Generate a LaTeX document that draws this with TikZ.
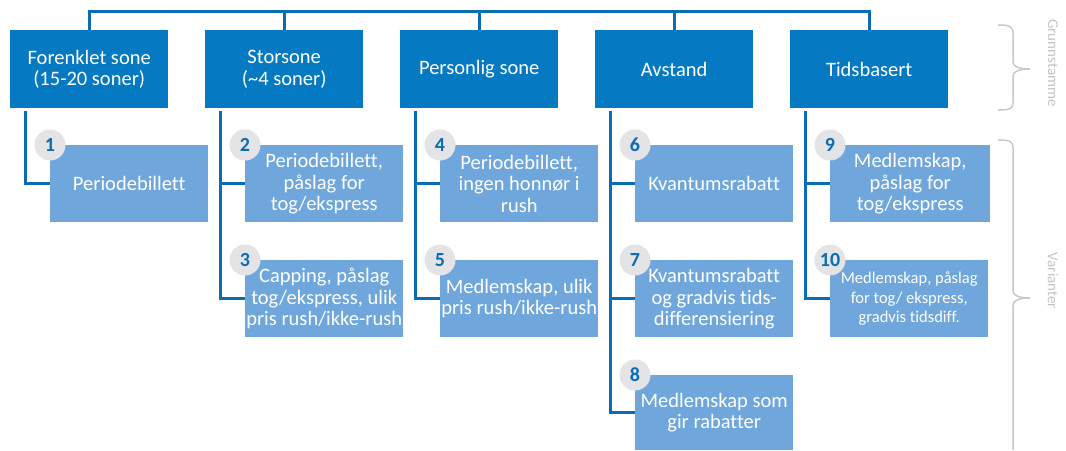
\documentclass[tikz,border=0pt]{standalone}
\usepackage{fontspec}
\setmainfont[Ligatures=NoCommon]{Carlito}
\definecolor{topblue}{HTML}{0579C1}
\definecolor{subblue}{HTML}{6FA7DC}
\definecolor{lineblue}{HTML}{0A6CB2}
\definecolor{numgray}{HTML}{E4E4E6}
\definecolor{bracegray}{HTML}{C8C8C8}
\definecolor{labelgray}{HTML}{C4C4C4}
\tikzset{
  topbox/.style={fill=topblue, text=white, minimum width=158pt, minimum height=78pt, inner sep=0pt, anchor=north west, align=center, font=\fontsize{20.5}{21.5}\selectfont},
  subbox/.style={fill=subblue, text=white, minimum width=158pt, minimum height=77pt, inner sep=0pt, anchor=north west, align=center, font=\fontsize{20.5}{21.5}\selectfont},
  numbadge/.style={circle, fill=numgray, minimum size=31pt, inner sep=0pt, text=lineblue, font=\fontsize{20}{20}\selectfont\bfseries},
  conn/.style={draw=lineblue, line width=3pt},
  bracepath/.style={draw=bracegray, line width=1.5pt},
  sidelabel/.style={rotate=-90, text=labelgray, font=\fontsize{15}{15}\selectfont}
}
\begin{document}
\begin{tikzpicture}[x=1pt,y=-1pt]
\useasboundingbox (0,0) rectangle (1066,450);
% top row
\node[topbox] (t1) at (10,30) {Forenklet sone\\(15-20 soner)};
\node[topbox] (t2) at (205,30) {Storsone\\(\textasciitilde4 soner)};
\node[topbox] (t3) at (400,30) {Personlig sone};
\node[topbox] (t4) at (595,30) {Avstand};
\node[topbox] (t5) at (790,30) {Tidsbasert};
% top bar
\coordinate (bar) at (0,11.5);
\draw[conn] (t1.north) |- (bar -| t5.north) -- (t5.north);
\foreach \t in {t2,t3,t4} \draw[conn] (\t.north) -- (\t.north |- bar);
% sub boxes
\node[subbox] (s1) at (50,145) {Periodebillett};
\node[subbox] (s2) at (245,145) {Periodebillett,\\påslag for\\tog/ekspress};
\node[subbox] (s3) at (245,260) {Capping, påslag\\tog/ekspress, ulik\\pris rush/ikke-rush};
\node[subbox] (s4) at (440,145) {Periodebillett,\\ingen honnør i\\rush};
\node[subbox] (s5) at (440,260) {Medlemskap, ulik\\pris rush/ikke-rush};
\node[subbox] (s6) at (635,145) {Kvantumsrabatt};
\node[subbox] (s7) at (635,260) {Kvantumsrabatt\\og gradvis tids-\\differensiering};
\node[subbox, minimum height=75pt] (s8) at (635,375) {Medlemskap som\\gir rabatter};
\node[subbox, minimum width=160pt] (s9) at (830,145) {Medlemskap,\\påslag for\\tog/ekspress};
\node[subbox, font=\fontsize{16.5}{19.5}\selectfont] (s10) at (830,260) {Medlemskap, påslag\\for tog/ ekspress,\\gradvis tidsdiff.};
% connectors
\draw[conn] ([xshift=15pt,yshift=-3pt]t1.south west) |- (s1.west);
\draw[conn] ([xshift=15pt,yshift=-3pt]t2.south west) |- (s2.west);
\draw[conn] ([xshift=15pt,yshift=-3pt]t2.south west) |- (s3.west);
\draw[conn] ([xshift=15pt,yshift=-3pt]t3.south west) |- (s4.west);
\draw[conn] ([xshift=15pt,yshift=-3pt]t3.south west) |- (s5.west);
\draw[conn] ([xshift=15pt,yshift=-3pt]t4.south west) |- (s6.west);
\draw[conn] ([xshift=15pt,yshift=-3pt]t4.south west) |- (s7.west);
\draw[conn] ([xshift=15pt,yshift=-3pt]t4.south west) |- (s8.west);
\draw[conn] ([xshift=15pt,yshift=-3pt]t5.south west) |- (s9.west);
\draw[conn] ([xshift=15pt,yshift=-3pt]t5.south west) |- (s10.west);
% number badges
\node[numbadge] (n1) at (s1.north west) {1};
\node[numbadge] (n2) at (s2.north west) {2};
\node[numbadge] (n3) at (s3.north west) {3};
\node[numbadge] (n4) at (s4.north west) {4};
\node[numbadge] (n5) at (s5.north west) {5};
\node[numbadge] (n6) at (s6.north west) {6};
\node[numbadge] (n7) at (s7.north west) {7};
\node[numbadge] (n8) at (s8.north west) {8};
\node[numbadge] (n9) at (s9.north west) {9};
\node[numbadge] (n10) at (s10.north west) {10};
% braces
\draw[bracepath] (998,25) .. controls (1009,25) and (1013,26) .. (1013,33) -- (1013,62) .. controls (1013,67) and (1020,69) .. (1030,69) .. controls (1020,69) and (1013,71) .. (1013,76) -- (1013,103) .. controls (1013,109) and (1009,110) .. (998,110);
\draw[bracepath] (998,140) .. controls (1009,140) and (1013,141) .. (1013,148) -- (1013,291) .. controls (1013,296) and (1020,298) .. (1030,298) .. controls (1020,298) and (1013,300) .. (1013,305) -- (1013,450);
\node[sidelabel] (g) at (1053,63) {Grunnstamme};
\node[sidelabel] (v) at (1053,281) {Varianter};
\end{tikzpicture}
\end{document}
